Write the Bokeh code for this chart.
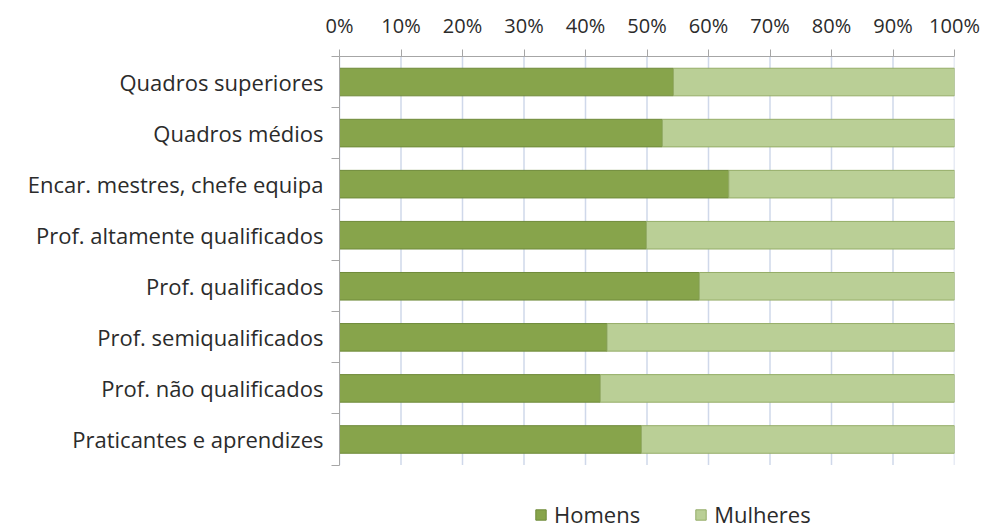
from bokeh.plotting import figure
from bokeh.models import (Range1d, FixedTicker, NumeralTickFormatter, Legend, LegendItem,
                          ColumnDataSource)
from bokeh.embed import file_html
from bokeh.resources import INLINE

categories = ["Quadros superiores", "Quadros médios", "Encar. mestres, chefe equipa",
              "Prof. altamente qualificados", "Prof. qualificados", "Prof. semiqualificados",
              "Prof. não qualificados", "Praticantes e aprendizes"]
homens = [54.3, 52.5, 63.3, 49.9, 58.5, 43.5, 42.4, 49.1]
mulheres = [45.7, 47.5, 36.7, 50.1, 41.5, 56.5, 57.6, 50.9]
x_ticks = [0, 10, 20, 30, 40, 50, 60, 70, 80, 90, 100]

n = len(categories)
ypos = [n - i for i in range(n)]
h_frac = [v / 100 for v in homens]
m_frac = [v / 100 for v in mulheres]
src = ColumnDataSource(dict(y=ypos, h0=[0] * n, h1=h_frac,
                            m0=h_frac, m1=[a + b for a, b in zip(h_frac, m_frac)]))
xt = [t / 100 for t in x_ticks]

FONT = "Open Sans"
TXT = "#2b2b2b"

W, H = 982, 530
TOP, BARS_BOTTOM = 56, 464.5          # pixel extent of the category area
px_per_unit = (BARS_BOTTOM - TOP) / n
y_start = 0.5 - (H - BARS_BOTTOM) / px_per_unit   # frame reaches the bottom to host the legend

p = figure(width=W, height=H, output_backend="svg", toolbar_location=None,
           x_range=Range1d(0, 1), y_range=Range1d(y_start, n + 0.5),
           x_axis_location="above", min_border_left=339, min_border_right=28,
           min_border_top=TOP, min_border_bottom=0)
p.outline_line_color = None
p.background_fill_color = "white"
p.xgrid.grid_line_color = None
p.ygrid.grid_line_color = None

# vertical gridlines limited to the category area
p.segment(x0=xt, y0=[0.5] * len(xt), x1=xt, y1=[n + 0.5] * len(xt),
          line_color="#CFD8EA", line_width=1.5)

r1 = p.hbar(y="y", left="h0", right="h1", height=0.54, source=src,
            fill_color="#87A44B", line_color="#6F8A3A", line_width=1)
r2 = p.hbar(y="y", left="m0", right="m1", height=0.54, source=src,
            fill_color="#BACF96", line_color="#95AD68", line_width=1)

# x axis (top)
xa = p.xaxis[0]
xa.ticker = FixedTicker(ticks=xt)
xa.formatter = NumeralTickFormatter(format="0%")
xa.major_label_text_font = FONT
xa.major_label_text_font_size = "20px"
xa.major_label_text_color = TXT
xa.axis_line_color = "#A6A6A6"
xa.major_tick_line_color = "#A6A6A6"
xa.major_tick_out = 7
xa.major_tick_in = 0
xa.minor_tick_line_color = None
xa.major_label_standoff = 11

# y axis
ya = p.yaxis[0]
ya.bounds = (0.5, n + 0.5)
ya.ticker = FixedTicker(ticks=ypos, minor_ticks=[k + 0.5 for k in range(n + 1)])
ya.major_label_overrides = {y: c for y, c in zip(ypos, categories)}
ya.major_label_text_font = FONT
ya.major_label_text_font_size = "22px"
ya.major_label_text_color = TXT
ya.axis_line_color = "#A6A6A6"
ya.major_tick_line_color = None
ya.major_tick_out = 0
ya.major_tick_in = 0
ya.minor_tick_line_color = "#A6A6A6"
ya.minor_tick_out = 8
ya.minor_tick_in = 0
ya.major_label_standoff = 8

legend = Legend(items=[LegendItem(label="Homens", renderers=[r1]),
                       LegendItem(label="Mulheres", renderers=[r2])],
                orientation="horizontal", location=(195, 1),
                label_text_font=FONT, label_text_font_size="22px", label_text_color=TXT,
                glyph_width=13, glyph_height=13, label_standoff=7, spacing=54,
                padding=0, margin=0, border_line_color=None, background_fill_alpha=0,
                label_height=20)
p.add_layout(legend, "center")

open("out.html", "w").write(file_html(p, INLINE))
